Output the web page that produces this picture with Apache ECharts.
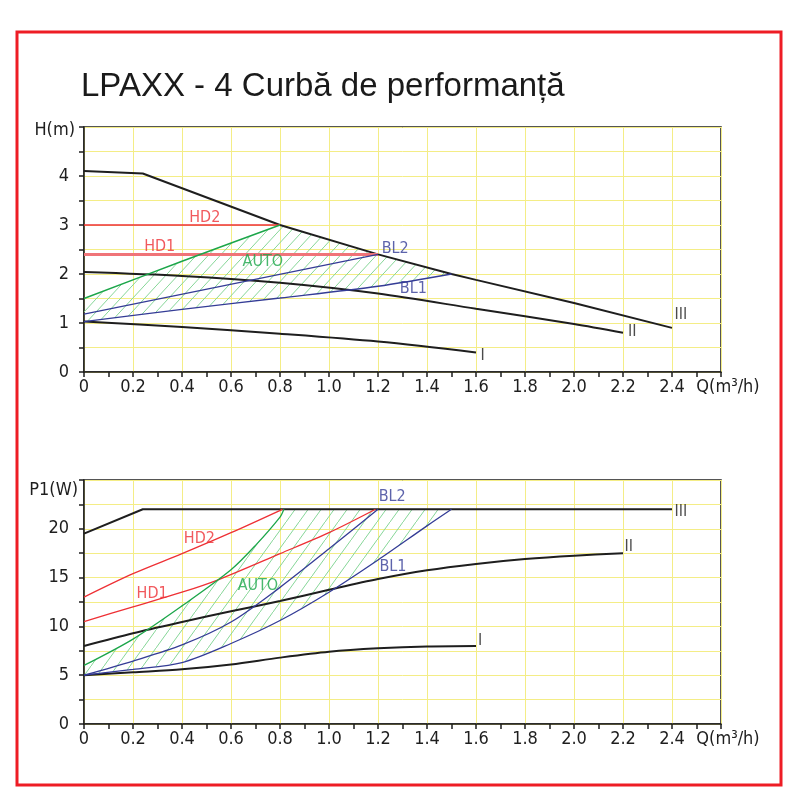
<!DOCTYPE html>
<html>
<head>
<meta charset="utf-8">
<title>LPAXX - 4 Curbă de performanță</title>
<script src="https://cdn.jsdelivr.net/npm/echarts@6/dist/echarts.min.js"></script>
<style>
  html, body { margin: 0; padding: 0; background: #fff; }
  #chart { width: 800px; height: 810px; }
</style>
</head>
<body>
<div id="chart"></div>
<script type="text/javascript">
// ---- data: H(m) vs Q(m3/h), upper chart ----
var curve3H = [[0, 4.1], [0.24, 4.05], [0.8, 3.0], [1.2, 2.4], [1.5, 2.0], [1.6, 1.88], [2.0, 1.41], [2.4, 0.9]];
var curve2H = [[0, 2.04], [0.4, 1.96], [0.8, 1.82], [1.2, 1.6], [1.6, 1.29], [2.0, 0.98], [2.2, 0.8]];
var curve1H = [[0, 1.03], [0.4, 0.92], [0.8, 0.78], [1.2, 0.62], [1.6, 0.4]];
var hd2H = [[0, 3.0], [0.8, 3.0]];
var hd1H = [[0, 2.4], [1.2, 2.4]];
var autoH = [[0, 1.5], [0.4, 2.26], [0.8, 3.0]];
var bl2H = [[0, 1.18], [1.2, 2.4]];
var bl1H = [[0, 1.03], [0.4, 1.28], [0.8, 1.51], [1.2, 1.75], [1.5, 2.0]];

// ---- data: P1(W) vs Q(m3/h), lower chart ----
var curve3P = [[0, 19.5], [0.24, 22], [2.4, 22]];
var curve2P = [[0, 8.0], [0.2, 9.3], [0.4, 10.45], [0.6, 11.55], [0.8, 12.6], [1.0, 13.75], [1.2, 14.85], [1.4, 15.75], [1.6, 16.4], [1.8, 16.9], [2.0, 17.25], [2.2, 17.5]];
var curve1P = [[0, 5.0], [0.2, 5.3], [0.4, 5.6], [0.6, 6.1], [0.8, 6.8], [1.0, 7.4], [1.2, 7.75], [1.4, 7.95], [1.6, 8.0]];
var hd2P = [[0, 13.0], [0.2, 15.4], [0.4, 17.45], [0.6, 19.6], [0.81, 22]];
var hd1P = [[0, 10.5], [0.2, 12.0], [0.4, 13.5], [0.55, 14.8], [0.8, 17.45], [1.0, 19.6], [1.19, 22]];
var autoP = [[0, 6.0], [0.2, 8.7], [0.4, 12.1], [0.6, 15.8], [0.7, 18.3], [0.8, 21.2], [0.816, 22]];
var bl2P = [[0, 5.0], [0.2, 6.45], [0.4, 8.1], [0.6, 10.45], [0.8, 14.0], [1.0, 17.95], [1.2, 22]];
var bl1P = [[0, 5.0], [0.2, 5.6], [0.4, 6.3], [0.6, 8.25], [0.8, 10.6], [1.0, 13.5], [1.2, 16.8], [1.4, 20.3], [1.5, 22]];

// curve names written on the charts [Q, value, text]
var labelsTop = [[0.493, 3.14, 'HD2'], [0.309, 2.56, 'HD1'], [0.73, 2.25, 'AUTO'], [1.27, 2.52, 'BL2'], [1.344, 1.69, 'BL1'], [2.436, 1.16, 'III'], [2.238, 0.81, 'II'], [1.627, 0.33, 'I']];
var labelsBottom = [[1.258, 23.24, 'BL2'], [0.471, 18.93, 'HD2'], [0.278, 13.34, 'HD1'], [0.71, 14.13, 'AUTO'], [1.261, 16.14, 'BL1'], [2.436, 21.73, 'III'], [2.223, 18.2, 'II'], [1.617, 8.49, 'I']];

var RED = '#ee3035', GREEN = '#1ca64a', BLUE = '#343c96', BLACK = '#1e1e1e';
var YELLOW = '#f4ed86';
var FONT = "'Liberation Sans Narrow', 'DejaVu Sans Condensed', sans-serif";
var labelColor = { HD1: RED, HD2: RED, AUTO: GREEN, BL1: BLUE, BL2: BLUE, I: BLACK, II: BLACK, III: BLACK };

// hatched operating areas: AUTO / III on top, BL1 below
var hatchTop = autoH.concat(curve3H.filter(function (p) { return p[0] > 0.8 && p[0] <= 1.5; }))
  .concat(bl1H.slice().reverse());
var hatchBottom = autoP.concat(bl1P.slice().reverse());

function hatch(w, h) {
  var c = document.createElement('canvas');
  c.width = w; c.height = h;
  var ctx = c.getContext('2d');
  ctx.strokeStyle = '#86d698';
  ctx.lineWidth = 1;
  ctx.beginPath();
  ctx.moveTo(-1, h + h / w); ctx.lineTo(w + 1, -h / w);
  ctx.stroke();
  return { image: c, repeat: 'repeat' };
}
var patTop = hatch(12, 13);
var patBottom = hatch(13, 18);

function xAxisOpt(idx) {
  return {
    type: 'value', gridIndex: idx, min: 0, max: 2.6, interval: 0.2,
    axisLine: { show: true, onZero: false, lineStyle: { color: BLACK, width: 1.5 } },
    axisTick: { show: true, length: 5, lineStyle: { color: BLACK, width: 1.5 } },
    minorTick: { show: true, splitNumber: 2, length: 5, lineStyle: { color: BLACK, width: 1.5 } },
    splitLine: { show: true, lineStyle: { color: YELLOW, width: 1 } },
    axisLabel: {
      margin: 6, color: BLACK, fontSize: 18, fontFamily: FONT, showMaxLabel: true,
      formatter: function (v) {
        if (Math.abs(v - 2.6) < 1e-6) return '{q|Q(m³/h)}';
        return v === 0 ? '0' : v.toFixed(1);
      },
      rich: { q: { fontSize: 18, fontFamily: FONT, color: BLACK, padding: [0, 0, 0, 14] } }
    }
  };
}

function yAxisOpt(idx, max, step, labelStep, name, nameGap, padRight) {
  return {
    type: 'value', gridIndex: idx, min: 0, max: max, interval: step,
    name: name, nameLocation: 'end', nameGap: nameGap,
    nameTextStyle: { color: BLACK, fontSize: 18, fontFamily: FONT, align: 'right', verticalAlign: 'middle', padding: [0, padRight, 0, 0] },
    axisLine: { show: true, onZero: false, lineStyle: { color: BLACK, width: 1.5 } },
    axisTick: { show: true, length: 5, lineStyle: { color: BLACK, width: 1.5 } },
    splitLine: { show: true, lineStyle: { color: YELLOW, width: 1 } },
    axisLabel: {
      margin: 15, color: BLACK, fontSize: 18, fontFamily: FONT, showMaxLabel: true,
      formatter: function (v) {
        if (Math.abs(v - max) < 1e-6) return '';
        return (Math.abs(v / labelStep - Math.round(v / labelStep)) < 1e-6) ? String(v) : '';
      }
    }
  };
}

function line(data, color, width, g, smooth, z) {
  return {
    type: 'line', data: data, xAxisIndex: g, yAxisIndex: g,
    showSymbol: false, symbol: 'none', smooth: smooth ? 0.3 : false,
    lineStyle: { color: color, width: width }, z: z || 3, silent: true
  };
}

function hatchSeries(poly, pat, g) {
  return {
    type: 'custom', xAxisIndex: g, yAxisIndex: g, data: [[0, 0]], z: 1, silent: true, clip: true,
    renderItem: function (params, api) {
      var pts = poly.map(function (p) { return api.coord(p); });
      return { type: 'polygon', shape: { points: pts, smooth: 0 }, style: { fill: pat, stroke: null } };
    }
  };
}

function labelSeries(list, g) {
  return {
    type: 'scatter', xAxisIndex: g, yAxisIndex: g, symbolSize: 0.1, silent: true, z: 5,
    itemStyle: { color: 'transparent' },
    data: list.map(function (l) {
      return {
        value: [l[0], l[1]], name: l[2],
        label: { show: true, position: 'inside', formatter: l[2], color: labelColor[l[2]], fontSize: 16, fontFamily: FONT }
      };
    })
  };
}

var myChart = echarts.init(document.getElementById('chart'), null, { renderer: 'canvas' });
var option = {
  animation: false,
  backgroundColor: '#fff',
  title: {
    text: 'LPAXX - 4 Curbă de performanță', left: 81, top: 70, padding: 0,
    textStyle: { color: '#1a1a1a', fontSize: 33, fontWeight: 'normal', fontFamily: "'Liberation Sans', Arial, sans-serif" }
  },
  graphic: [{
    type: 'rect', shape: { x: 17, y: 32, width: 764, height: 753 },
    style: { fill: null, stroke: '#ee1c25', lineWidth: 3 }, silent: true
  }],
  grid: [
    { left: 84, top: 127, width: 637, height: 245, show: true, borderColor: BLACK, borderWidth: 1.5, backgroundColor: 'transparent' },
    { left: 84, top: 480, width: 637, height: 244, show: true, borderColor: BLACK, borderWidth: 1.5, backgroundColor: 'transparent' }
  ],
  xAxis: [xAxisOpt(0), xAxisOpt(1)],
  yAxis: [
    yAxisOpt(0, 5, 0.5, 1, 'H(m)', -3, 9),
    yAxisOpt(1, 25, 2.5, 5, 'P1(W)', -10, 6)
  ],
  series: [
    hatchSeries(hatchTop, patTop, 0),
    line(curve3H, BLACK, 2, 0, false),
    line(curve2H, BLACK, 2, 0, true),
    line(curve1H, BLACK, 2, 0, true),
    line(hd2H, RED, 1.3, 0, false),
    line(hd1H, '#f07478', 3, 0, false),
    line(autoH, GREEN, 1.5, 0, true),
    line(bl2H, BLUE, 1.3, 0, false),
    line(bl1H, BLUE, 1.3, 0, true),
    labelSeries(labelsTop, 0),

    hatchSeries(hatchBottom, patBottom, 1),
    line(curve3P, BLACK, 2, 1, false),
    line(curve2P, BLACK, 2, 1, true),
    line(curve1P, BLACK, 2, 1, true),
    line(hd2P, RED, 1.3, 1, true),
    line(hd1P, RED, 1.3, 1, true),
    line(autoP, GREEN, 1.3, 1, true),
    line(bl2P, BLUE, 1.3, 1, true),
    line(bl1P, BLUE, 1.3, 1, true),
    labelSeries(labelsBottom, 1)
  ]
};
myChart.setOption(option);
</script>
</body>
</html>
